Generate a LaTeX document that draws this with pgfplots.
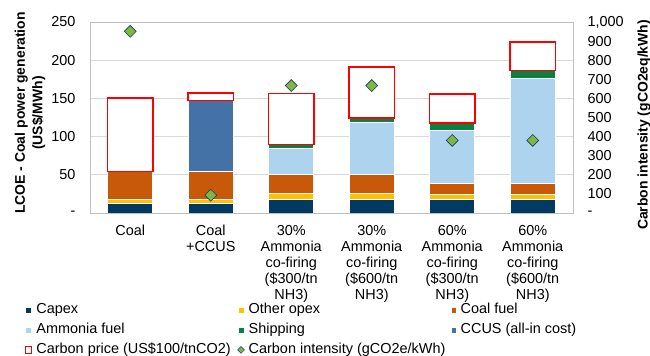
\documentclass[border=0pt]{standalone}
\usepackage{pgfplots}
\pgfplotsset{compat=1.18}
\usepackage{fontspec}
\setmainfont{Liberation Sans}
\definecolor{capex}{HTML}{003A63}
\definecolor{opex}{HTML}{FFC000}
\definecolor{coalfuel}{HTML}{C9590A}
\definecolor{nh3fuel}{HTML}{AED3EE}
\definecolor{shipping}{HTML}{0C8044}
\definecolor{ccus}{HTML}{4472A6}
\definecolor{cigreen}{HTML}{7DB843}
\definecolor{ciedge}{HTML}{1F3864}
\definecolor{gridgray}{HTML}{D9D9D9}
\definecolor{boxgray}{HTML}{BFBFBF}
\pgfplotsset{
  sqleg/.style={legend image code/.code={\draw[##1, line width=0.4pt] (0bp,-2.8bp) rectangle (5.6bp,2.8bp);}},
  redleg/.style={legend image code/.code={\draw[draw=red, fill=white, line width=1pt] (0bp,-3.1bp) rectangle (6.2bp,3.1bp);}},
}
\begin{document}
\begin{tikzpicture}
\path[use as bounding box] (0,0) rectangle (650bp,356bp);
\begin{axis}[
  at={(90bp,143bp)}, anchor=south west, scale only axis,
  width=483bp, height=191bp,
  ybar stacked, reverse stacked plots=false, bar width=0.56,
  xmin=-0.5, xmax=5.5, ymin=0, ymax=250,
  xtick={0,1,2,3,4,5},
  xticklabels={Coal,{Coal\\+CCUS},{30\%\\Ammonia\\co-firing\\(\$300/tn\\NH3)},{30\%\\Ammonia\\co-firing\\(\$600/tn\\NH3)},{60\%\\Ammonia\\co-firing\\(\$300/tn\\NH3)},{60\%\\Ammonia\\co-firing\\(\$600/tn\\NH3)}},
  ytick={0,50,100,150,200,250},
  yticklabels={-,50,100,150,200,250},
  ymajorgrids, grid style={gridgray, line width=0.7pt},
  axis line style={boxgray, line width=0.7pt},
  major tick length=0,
  tick label style={font=\fontsize{14.5}{16}\selectfont},
  xticklabel style={align=center, anchor=north, yshift=-9bp},
  yticklabel style={xshift=-11bp},
  legend columns=3,
  legend style={at={(0,0)}, anchor=north west, xshift=-65bp, yshift=-88bp,
    draw=none, fill=none, font=\fontsize{14.5}{16}\selectfont,
    nodes={inner xsep=4bp, inner ysep=2bp, text height=10.5bp, text depth=3bp},
    cells={anchor=west}, row sep=2.5bp, inner sep=0pt},
]
\addplot[sqleg, fill=capex, draw=white, line width=0.6pt] coordinates {(0,13) (1,13) (2,18.3) (3,18.3) (4,18.3) (5,18.3)};
\addplot[sqleg, fill=opex, draw=white, line width=0.6pt] coordinates {(0,5) (1,5) (2,7) (3,7) (4,6.7) (5,6.7)};
\addplot[sqleg, fill=coalfuel, draw=white, line width=0.6pt] coordinates {(0,36.5) (1,37) (2,26) (3,26) (4,14.3) (5,14.3)};
\addplot[sqleg, fill=nh3fuel, draw=white, line width=0.6pt] coordinates {(0,0) (1,0) (2,34) (3,68) (4,68.5) (5,137)};
\addplot[sqleg, fill=shipping, draw=white, line width=0.6pt] coordinates {(0,0) (1,0) (2,4.4) (3,4.8) (4,10) (5,10)};
\addplot[sqleg, fill=ccus, draw=white, line width=0.6pt] coordinates {(0,0) (1,92.5) (2,0) (3,0) (4,0) (5,0)};
\addplot[redleg, fill=white, draw=red, line width=1.5bp] coordinates {(0,96) (1,9.5) (2,67) (3,67) (4,38) (5,37.5)};
\addlegendimage{legend image code/.code={\draw[draw=ciedge, fill=cigreen, line width=0.5pt] (2.8bp,-3.4bp) -- (6.2bp,0bp) -- (2.8bp,3.4bp) -- (-0.6bp,0bp) -- cycle;}}
\legend{\makebox[197bp][l]{Capex},\makebox[198bp][l]{Other opex},Coal fuel,
  \makebox[197bp][l]{Ammonia fuel},\makebox[198bp][l]{Shipping},CCUS (all-in cost),
  \makebox[197bp][l]{Carbon price (US\$100/tnCO2)},\makebox[198bp][l]{Carbon intensity (gCO2e/kWh)}}
\end{axis}
\begin{axis}[
  at={(90bp,143bp)}, anchor=south west, scale only axis,
  width=483bp, height=191bp,
  xmin=-0.5, xmax=5.5, ymin=0, ymax=1000,
  axis x line=none, axis y line*=right,
  y axis line style={boxgray, line width=0.7pt},
  ytick={0,100,200,300,400,500,600,700,800,900,1000},
  yticklabels={-,100,200,300,400,500,600,700,800,900,{1,000}},
  major tick length=0,
  tick label style={font=\fontsize{14.5}{16.7}\selectfont},
  yticklabel style={anchor=west, xshift=11bp},
]
\addplot[only marks, mark=square*, mark size=4.2bp, mark options={rotate=45, fill=cigreen, draw=ciedge, line width=0.6pt}] coordinates {(0,951) (1,93) (2,667) (3,667) (4,380) (5,380)};
\end{axis}
\node[rotate=90, align=center, font=\bfseries\fontsize{14}{17.5}\selectfont] at (30bp,243bp) {LCOE - Coal power generation\\(US\$/MWh)};
\node[rotate=90, font=\bfseries\fontsize{14}{16}\selectfont] at (644bp,231bp) {Carbon intensity (gCO2eq/kWh)};
\end{tikzpicture}
\end{document}
